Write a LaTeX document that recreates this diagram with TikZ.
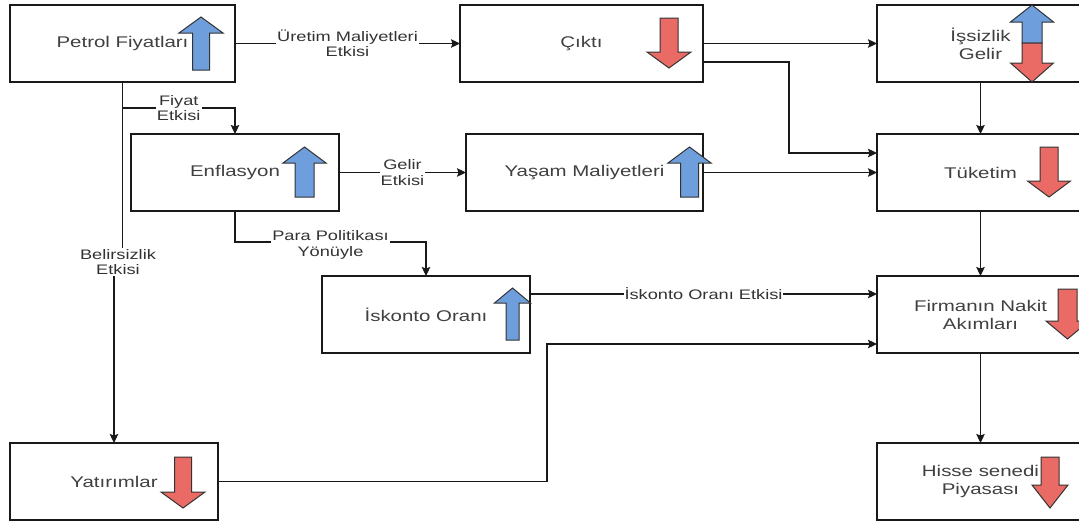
\documentclass[tikz,border=0pt]{standalone}
\usepackage{fontspec}
\setmainfont{Liberation Sans}[FakeStretch=1.32]
\usetikzlibrary{arrows.meta,calc}
\definecolor{upblue}{RGB}{110,158,220}
\definecolor{dnred}{RGB}{234,107,102}
\definecolor{txtgray}{RGB}{64,64,64}
\newcommand\UpArr[7]{\draw[shapeline,fill=#7] (#1,#2) -- ({#1+#4},{#2+#6}) -- ({#1+#5},{#2+#6}) -- ({#1+#5},#3) -- ({#1-#5},#3) -- ({#1-#5},{#2+#6}) -- ({#1-#4},{#2+#6}) -- cycle;}
\newcommand\DnArr[7]{\draw[shapeline,fill=#7] (#1,#3) -- ({#1+#4},{#3-#6}) -- ({#1+#5},{#3-#6}) -- ({#1+#5},#2) -- ({#1-#5},#2) -- ({#1-#5},{#3-#6}) -- ({#1-#4},{#3-#6}) -- cycle;}
\begin{document}
\begin{tikzpicture}[x=1pt,y=-1pt,
  box/.style={draw=black!90,line width=1.2pt,inner sep=0pt,outer sep=0pt,minimum height=77pt,
    align=center,text=txtgray,font=\fontsize{15.5}{18}\selectfont},
  lbl/.style={fill=white,inner sep=1pt,align=center,text=black!80,font=\fontsize{13.8}{15.5}\selectfont},
  conn/.style={draw=black!90,line width=1.25pt,-{Stealth[length=9pt,width=8.5pt,inset=1.5pt]}},
  shapeline/.style={draw=black!80,line width=1pt,line join=miter}]
\useasboundingbox (0,0) rectangle (1079,525);
\clip (0,0) rectangle (1079,525);
\fill[white] (0,0) rectangle (1079,525);
% boxes
\node[box,minimum width=225pt] (pf) at (122.5,43.5) {Petrol Fiyatları};
\node[box,minimum width=243pt] (ck) at (581.5,43.5) {Çıktı};
\node[box,minimum width=207pt] (is) at (980.5,43.5) {İşsizlik\\Gelir};
\node[box,minimum width=208pt] (en) at (235,172.5) {Enflasyon};
\node[box,minimum width=237pt] (ym) at (584.5,172.5) {Yaşam Maliyetleri};
\node[box,minimum width=207pt] (tk) at (980.5,172.5) {Tüketim};
\node[box,minimum width=208pt] (io) at (426,314.5) {\raisebox{-6pt}{İskonto Oranı}};
\node[box,minimum width=207pt] (fn) at (980.5,314.5) {Firmanın Nakit\\Akımları};
\node[box,minimum width=208pt] (yt) at (114,481.5) {Yatırımlar};
\node[box,minimum width=207pt] (hs) at (980.5,481.5) {Hisse senedi\\Piyasası};
% helper coordinates
\coordinate (bel) at (118,262);
\coordinate (fy) at (122.5,108);
\coordinate (ck2) at ([yshift=-18.5pt]ck.east);
\coordinate (tk1) at ([yshift=19.5pt]tk.west);
\coordinate (io2) at ([yshift=20.5pt]io.east);
\coordinate (fn1) at ([yshift=20.5pt]fn.west);
\coordinate (fn2) at ([yshift=-29.5pt]fn.west);
% connectors
\draw[conn] (pf.east) -- node[lbl]{Üretim Maliyetleri\\Etkisi} (ck.west);
\draw[conn] (pf.south) |- (bel) -| (yt.north);
\node[lbl] at (bel) {Belirsizlik\\Etkisi};
\draw[conn] (fy) -| node[lbl,pos=0.25]{Fiyat\\Etkisi} (en.north);
\draw[conn] (en.east) -- node[lbl]{Gelir\\Etkisi} (ym.west);
\draw[conn] (en.south) -- ++(0,31) -| node[lbl,pos=0.25,yshift=-3pt]{Para Politikası\\Yönüyle} (io.north);
\draw[conn] (ck.east) -- (is.west);
\draw[conn] (ck2) -- ++(86,0) |- (tk1);
\draw[conn] (ym.east) -- (tk.west);
\draw[conn] (is.south) -- (tk.north);
\draw[conn] (tk.south) -- (fn.north);
\draw[conn] (io2) -- node[lbl]{İskonto Oranı Etkisi} (fn1);
\draw[conn] (yt.east) -- ++(329,0) |- (fn2);
\draw[conn] (fn.south) -- (hs.north);
% trend arrows
\UpArr{201}{17}{70}{22}{8.5}{16}{upblue}
\DnArr{669}{18}{68}{22}{9}{16}{dnred}
\UpArr{1032}{5}{43}{21.5}{10}{17}{upblue}
\DnArr{1032}{43}{82}{21.5}{10}{19}{dnred}
\UpArr{304.5}{147}{197}{21.5}{9.5}{16}{upblue}
\UpArr{689.5}{147}{197}{21.5}{9}{16}{upblue}
\DnArr{1049}{147}{197}{21.5}{9}{16}{dnred}
\UpArr{512.5}{288}{340}{18}{6.5}{15}{upblue}
\DnArr{1067.5}{289}{339}{21.5}{9.5}{18}{dnred}
\DnArr{183}{457}{508}{22}{8.5}{16}{dnred}
\DnArr{1050}{457}{508}{18}{9}{23}{dnred}
\end{tikzpicture}
\end{document}
